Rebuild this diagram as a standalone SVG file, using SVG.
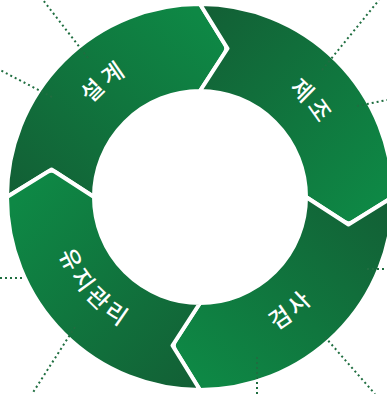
<svg xmlns="http://www.w3.org/2000/svg" xmlns:xlink="http://www.w3.org/1999/xlink" width="387" height="394" viewBox="0 0 387 394">
  <style>
    .seg { fill: url(#segGrad); stroke: #ffffff; stroke-width: 4; stroke-linejoin: round; }
    .lbl { fill: #ffffff; font-family: "Noto Sans CJK KR", "Noto Sans", sans-serif; font-size: 23px; font-weight: 500; letter-spacing: 4px; }
    .dots { fill: none; stroke: #1f6e40; stroke-width: 2; stroke-dasharray: 2 3; }
  </style>
  <defs>
    <linearGradient id="segGrad" gradientUnits="userSpaceOnUse" x1="20" y1="230" x2="205" y2="20">
      <stop offset="0" stop-color="#135c34"/>
      <stop offset="1" stop-color="#0e8845"/>
    </linearGradient>
    <path id="segShape" d="M 7 197 A 193 193 0 0 1 200 4 L 224.89 44.28 Q 227.52 48.53 224.80 52.73 L 200 91 A 106 106 0 0 0 94 197 L 51.53 169.48 Z"/>
    <path id="arc1" d="M 66.5 248.25 A 143 143 0 0 1 269.33 71.93"/>
    <path id="arc2" d="M 148.2 67.48 A 139.5 139.5 0 0 1 322.94 262.92"/>
    <path id="arc3" d="M 117.8 326.52 A 153.4 153.4 0 0 0 346.22 150.62"/>
    <path id="arc4" d="M 69.34 119.73 A 151.8 151.8 0 0 0 250.42 340.18"/>
  </defs>

  <g id="node-design">
    <use xlink:href="#segShape" href="#segShape" class="seg"/>
  </g>
  <g id="node-manufacture">
    <use xlink:href="#segShape" href="#segShape" class="seg" transform="rotate(90 200 197)"/>
  </g>
  <g id="node-inspection">
    <use xlink:href="#segShape" href="#segShape" class="seg" transform="rotate(180 200 197)"/>
  </g>
  <g id="node-maintenance">
    <use xlink:href="#segShape" href="#segShape" class="seg" transform="rotate(270 200 197)"/>
  </g>

  <g id="labels">
    <text class="lbl"><textPath xlink:href="#arc1" href="#arc1" startOffset="51%" text-anchor="middle">설계</textPath></text>
    <text class="lbl"><textPath xlink:href="#arc2" href="#arc2" startOffset="51%" text-anchor="middle">제조</textPath></text>
    <text class="lbl"><textPath xlink:href="#arc3" href="#arc3" startOffset="51%" text-anchor="middle">검사</textPath></text>
    <text class="lbl"><textPath xlink:href="#arc4" href="#arc4" startOffset="51%" text-anchor="middle">유지관리</textPath></text>
  </g>

  <g id="connectors">
    <line class="dots" x1="88" y1="58" x2="43" y2="0"/>
    <line class="dots" x1="52" y1="97" x2="0" y2="70"/>
    <line class="dots" x1="322" y1="70" x2="379" y2="0"/>
    <line class="dots" x1="357" y1="106" x2="387" y2="100"/>
    <line class="dots" x1="367" y1="269" x2="387" y2="269"/>
    <line class="dots" x1="325" y1="337" x2="375" y2="394"/>
    <line class="dots" x1="257" y1="357" x2="257" y2="394"/>
    <line class="dots" x1="75" y1="327" x2="32" y2="394"/>
    <line class="dots" x1="22" y1="278" x2="0" y2="278"/>
  </g>
</svg>
